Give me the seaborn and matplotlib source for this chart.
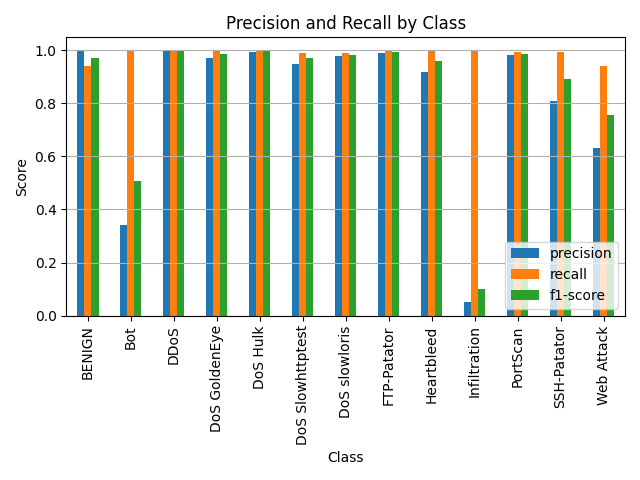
import matplotlib
matplotlib.use("Agg")
import matplotlib.pyplot as plt
import pandas as pd
import seaborn as sns

classes = ["BENIGN", "Bot", "DDoS", "DoS GoldenEye", "DoS Hulk", "DoS Slowhttptest",
           "DoS slowloris", "FTP-Patator", "Heartbleed", "Infiltration", "PortScan",
           "SSH-Patator", "Web Attack"]
precision = [0.998, 0.340, 0.999, 0.971, 0.994, 0.948, 0.979, 0.990, 0.918, 0.053, 0.982, 0.809, 0.631]
recall = [0.942, 0.999, 0.999, 0.999, 0.999, 0.990, 0.990, 0.999, 0.999, 0.999, 0.994, 0.994, 0.941]
f1_score = [0.971, 0.506, 0.999, 0.986, 0.997, 0.971, 0.982, 0.994, 0.960, 0.102, 0.986, 0.892, 0.756]

df = pd.DataFrame({"Class": classes, "precision": precision,
                   "recall": recall, "f1-score": f1_score})
long_df = df.melt(id_vars="Class", var_name="metric", value_name="Score")

fig, ax = plt.subplots(figsize=(6.4, 4.8), dpi=100)
sns.barplot(data=long_df, x="Class", y="Score", hue="metric",
            palette=["#1f77b4", "#ff7f0e", "#2ca02c"], saturation=1,
            width=0.5, linewidth=0, errorbar=None, ax=ax)

ax.grid(axis="y")
ax.set_title("Precision and Recall by Class")
ax.set_xlabel("Class")
ax.set_ylabel("Score")
ax.tick_params(axis="x", labelrotation=90)
ax.legend(loc="lower right")

plt.tight_layout()
fig.savefig("out.png", dpi=100)
